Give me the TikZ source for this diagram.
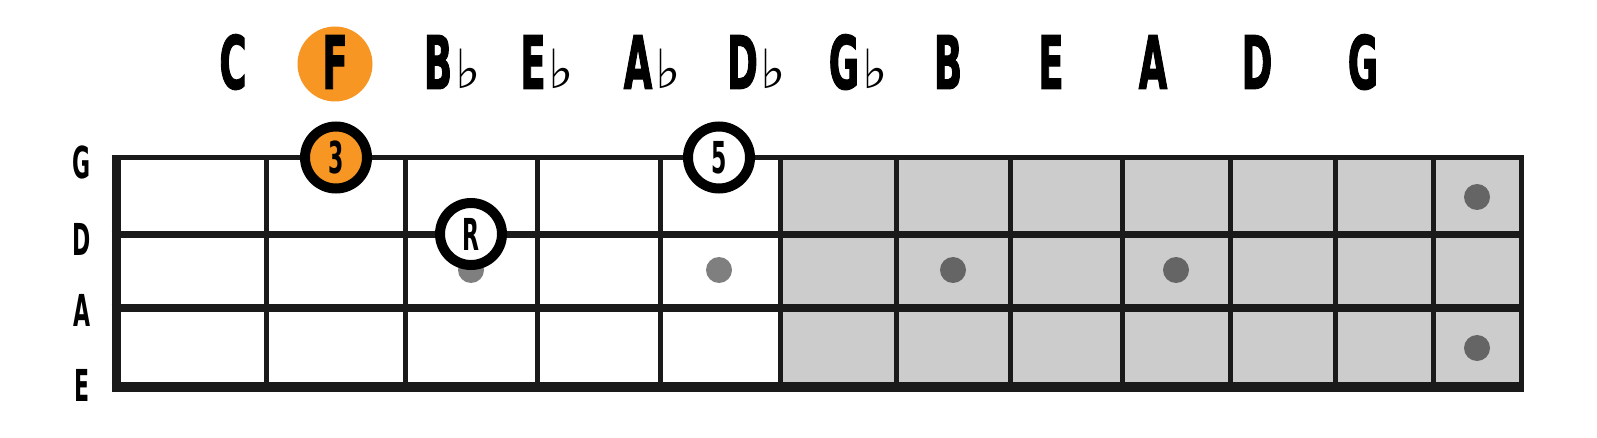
\documentclass[tikz,border=0pt]{standalone}
\usepackage{fontspec}
\newfontfamily\condfont[FakeStretch=0.5,FakeBold=1.2]{DejaVu Sans}
\newfontfamily\smallcond[FakeStretch=0.5]{DejaVu Sans}
\newfontfamily\flatfont{DejaVu Sans}
\definecolor{fbline}{RGB}{26,26,26}
\definecolor{fborange}{RGB}{247,150,35}
\definecolor{fbgray}{RGB}{204,204,204}
\newcommand{\flatsign}{\rlap{\kern3pt\flatfont\mdseries\fontsize{54}{54}\selectfont ♭}}
\begin{document}
\begin{tikzpicture}[x=1pt,y=-1pt,
  notename/.style={anchor=base, inner sep=0pt, text=black,
    font=\condfont\bfseries\fontsize{74}{74}\selectfont},
  stringname/.style={anchor=center, inner sep=0pt, text=black,
    font=\smallcond\bfseries\fontsize{44}{44}\selectfont},
  fretline/.style={draw=fbline, line width=5pt},
  nutline/.style={draw=fbline, line width=9pt},
  finger/.style={circle, draw=black, line width=10pt, minimum size=62pt,
    inner sep=0pt, text=black, font=\smallcond\bfseries\fontsize{44}{44}\selectfont},
  rootmark/.style={circle, fill=fborange, minimum size=75pt, inner sep=0pt},
  dotmark/.style={circle, fill=black, fill opacity=0.5, minimum size=26pt, inner sep=0pt}
]
\useasboundingbox (0,0) rectangle (1597,438);
\fill[white] (0,0) rectangle (1597,438);

% shaded area of the fretboard
\fill[fbgray] (780,157.5) rectangle (1521.5,387);

% position dots
\node[dotmark] (dot1) at (471,270) {};
\node[dotmark] (dot2) at (719,270) {};
\node[dotmark] (dot3) at (953,270) {};
\node[dotmark] (dot4) at (1176,270) {};
\node[dotmark] (dot5) at (1477,197) {};
\node[dotmark] (dot6) at (1477,348) {};

% strings
\coordinate (gL) at (111.7,157.5); \coordinate (gR) at (1524,157.5);
\coordinate (dL) at (111.7,234.5); \coordinate (dR) at (1524,234.5);
\coordinate (aL) at (111.7,307.5); \coordinate (aR) at (1524,307.5);
\coordinate (eL) at (111.7,387);   \coordinate (eR) at (1524,387);
\draw[draw=fbline, line width=5pt] (gL) -- (gR);
\draw[draw=fbline, line width=7pt] (dL) -- (dR);
\draw[draw=fbline, line width=8pt] (aL) -- (aR);
\draw[draw=fbline, line width=10pt] (eL) -- (eR);

% nut and frets
\coordinate (nutT) at (116.2,155); \coordinate (nutB) at (116.2,392);
\draw[nutline] (nutT) -- (nutB);
\foreach \fx [count=\i] in {266.5,405,537,660,780,896,1010,1122,1230,1335,1433,1521.5}{
  \coordinate (f\i T) at (\fx,155);
  \coordinate (f\i B) at (\fx,392);
  \draw[fretline] (f\i T) -- (f\i B);
}

% string names
\node[stringname] (lblG) at (82,162) {G};
\node[stringname] (lblD) at (82,239) {D};
\node[stringname] (lblA) at (82,310) {A};
\node[stringname] (lblE) at (82,385) {E};

% note names
\node[rootmark] (fcirc) at (335,64) {};
\node[notename] (n1) at (233,89) {C};
\node[notename] (n2) at (335,89) {F};
\node[notename] (n3) at (438,89) {B\flatsign};
\node[notename] (n4) at (533,89) {E\flatsign};
\node[notename] (n5) at (638,89) {A\flatsign};
\node[notename] (n6) at (742.5,89) {D\flatsign};
\node[notename] (n7) at (844,89) {G\flatsign};
\node[notename] (n8) at (948,89) {B};
\node[notename] (n9) at (1051,89) {E};
\node[notename] (n10) at (1153,89) {A};
\node[notename] (n11) at (1257,89) {D};
\node[notename] (n12) at (1363,89) {G};

% chord tones
\node[finger, fill=fborange] (third) at (336,157.5) {3};
\node[finger, fill=white] (root) at (471,234) {R};
\node[finger, fill=white] (fifth) at (719,157.5) {5};
\end{tikzpicture}
\end{document}
